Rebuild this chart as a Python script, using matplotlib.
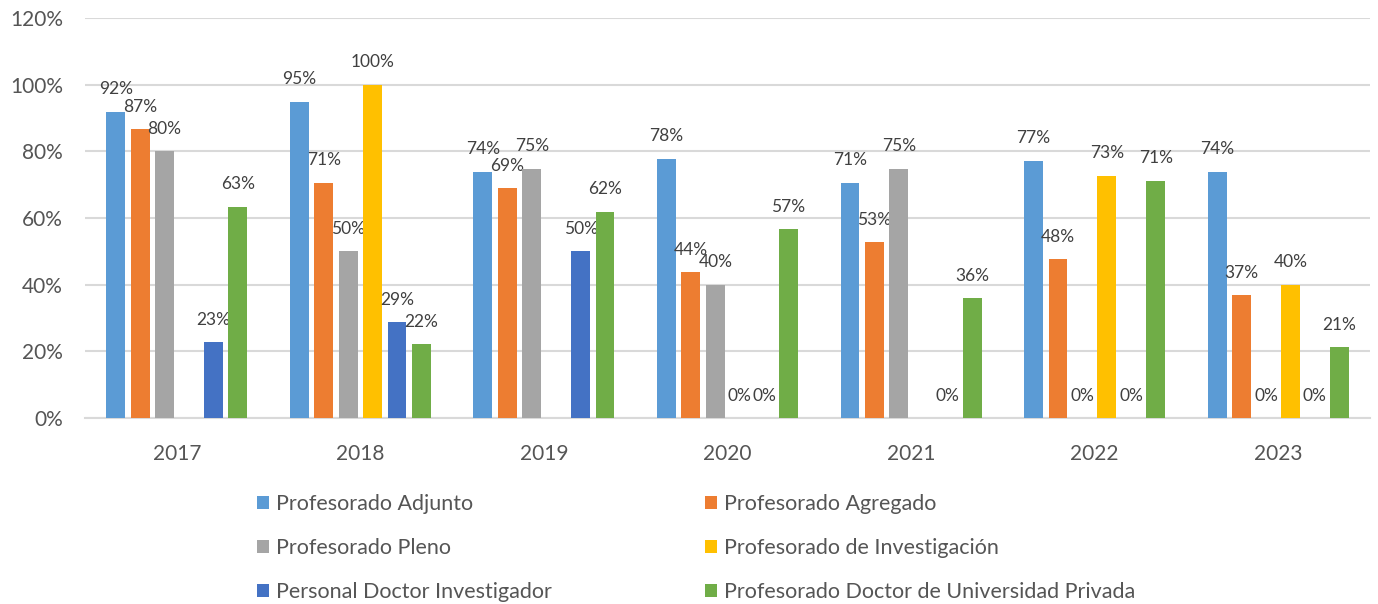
import matplotlib.pyplot as plt
import numpy as np

plt.rcParams['font.family'] = ['Lato', 'DejaVu Sans']

years = ['2017', '2018', '2019', '2020', '2021', '2022', '2023']
series = ['Profesorado Adjunto', 'Profesorado Agregado', 'Profesorado Pleno',
          'Profesorado de Investigación', 'Personal Doctor Investigador',
          'Profesorado Doctor de Universidad Privada']
nan = np.nan
adjunto = [0.919, 0.949, 0.739, 0.778, 0.706, 0.772, 0.739]
agregado = [0.866, 0.706, 0.690, 0.438, 0.527, 0.476, 0.369]
pleno = [0.800, 0.500, 0.748, 0.400, 0.748, 0.0, 0.0]
investigacion = [nan, 1.000, nan, 0.0, nan, 0.727, 0.400]
pdi = [0.228, 0.287, 0.500, 0.0, 0.0, 0.0, 0.0]
privada = [0.634, 0.222, 0.619, 0.567, 0.360, 0.712, 0.213]
colors = ['#5B9BD5', '#ED7D31', '#A5A5A5', '#FFC000', '#4472C4', '#70AD47']

data = [adjunto, agregado, pleno, investigacion, pdi, privada]

fig = plt.figure(figsize=(13.78, 6.04), dpi=100)
ax = fig.add_axes([85/1378, 1-418/604, (1370-85)/1378, 400/604])

x = np.arange(len(years))
step = 0.133
width = 0.103
handles = []
for i, (vals, c) in enumerate(zip(data, colors)):
    pos = x + (i - 2.5) * step
    v = np.array(vals, dtype=float)
    b = ax.bar(pos, np.nan_to_num(v), width, color=c, zorder=3)
    handles.append(b)
    for p, val in zip(pos, v):
        if np.isnan(val):
            continue
        ax.annotate(f'{val:.0%}', (p, val), xytext=(0, 16), textcoords='offset points',
                    ha='center', va='center', fontsize=12.5, color='#404040')

ax.set_ylim(0, 1.2)
ax.set_xlim(-0.5, len(years) - 0.5)
ax.set_yticks(np.arange(0, 1.21, 0.2))
ax.set_yticklabels([f'{int(round(t*100))}%' for t in np.arange(0, 1.21, 0.2)])
ax.set_xticks(x)
ax.set_xticklabels(years)
ax.tick_params(axis='both', length=0, labelsize=15, labelcolor='#555555')
ax.tick_params(axis='x', pad=19)
ax.tick_params(axis='y', pad=16)
ax.yaxis.grid(True, color='#D9D9D9', linewidth=1.5, zorder=0)
for s in ['left', 'right', 'top']:
    ax.spines[s].set_visible(False)
ax.spines['bottom'].set_color('#D9D9D9')
ax.spines['bottom'].set_linewidth(1.5)

leg_kw = dict(frameon=False, fontsize=15.5, labelcolor='#555555', handlelength=0.55,
              handleheight=0.55, handletextpad=0.35, labelspacing=1.12, borderpad=0)
leg1 = fig.legend([handles[0], handles[2], handles[4]], [series[0], series[2], series[4]],
                  loc='upper left', bbox_to_anchor=(246/1378, 1-483/604), **leg_kw)
leg2 = fig.legend([handles[1], handles[3], handles[5]], [series[1], series[3], series[5]],
                  loc='upper left', bbox_to_anchor=(694/1378, 1-483/604), **leg_kw)

fig.savefig('out.png', dpi=100)
